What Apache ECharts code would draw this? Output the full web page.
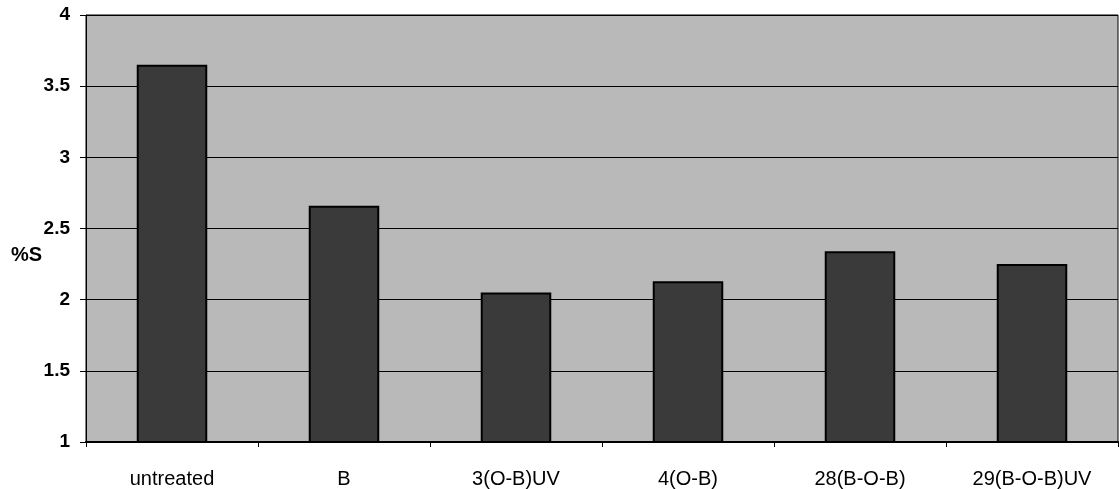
<!DOCTYPE html>
<html>
<head>
<meta charset="utf-8">
<script src="https://cdn.jsdelivr.net/npm/echarts@6/dist/echarts.min.js"></script>
<style>
  html, body { margin: 0; padding: 0; background: #ffffff; }
  #chart { width: 1120px; height: 489px; }
</style>
</head>
<body>
<div id="chart"></div>
<script>
// Sulfur content per treatment
const categories = ['untreated', 'B', '3(O-B)UV', '4(O-B)', '28(B-O-B)', '29(B-O-B)UV'];
const sulfurPct = [3.65, 2.66, 2.05, 2.13, 2.34, 2.25];
const yMin = 1, yMax = 4, yStep = 0.5;

const chart = echarts.init(document.getElementById('chart'), null, { renderer: 'canvas' });

chart.setOption({
  animation: false,
  backgroundColor: '#ffffff',
  grid: {
    left: 86, right: 2, top: 15, bottom: 46,
    show: true,
    backgroundColor: '#b9b9b9',
    borderColor: '#000000',
    borderWidth: 1
  },
  xAxis: {
    type: 'category',
    data: categories,
    axisLine: { show: true, lineStyle: { color: '#000000', width: 2 } },
    axisTick: { show: true, length: 5, lineStyle: { color: '#000000', width: 1 } },
    axisLabel: {
      color: '#000000',
      fontFamily: 'Liberation Sans',
      fontSize: 20,
      margin: 27
    },
    splitLine: { show: false }
  },
  yAxis: {
    type: 'value',
    min: yMin, max: yMax, interval: yStep,
    axisLine: { show: true, lineStyle: { color: '#000000', width: 1 } },
    axisTick: { show: true, length: 6, lineStyle: { color: '#000000' } },
    axisLabel: {
      color: '#000000',
      fontFamily: 'Liberation Sans',
      fontWeight: 'bold',
      fontSize: 19,
      margin: 16,
      padding: [4, 0, 0, 0]
    },
    splitLine: { show: true, lineStyle: { color: '#000000', width: 1 } }
  },
  graphic: [{
    type: 'text',
    left: 11, top: 245,
    style: {
      text: '%S',
      fill: '#000000',
      font: 'bold 20px "Liberation Sans"'
    }
  }],
  series: [{
    type: 'bar',
    data: sulfurPct,
    barWidth: '41%',
    itemStyle: {
      color: '#3a3a3a',
      borderColor: '#000000',
      borderWidth: 2
    }
  }]
});
</script>
</body>
</html>
